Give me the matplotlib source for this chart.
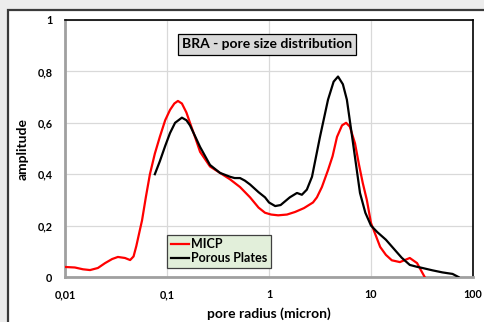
import matplotlib
matplotlib.use("Agg")
import matplotlib.pyplot as plt
from matplotlib.patches import Rectangle

plt.rcParams['font.family'] = ['Lato', 'DejaVu Sans']

micp_x = [0.01, 0.0125, 0.015, 0.0176, 0.021, 0.0247, 0.029, 0.033, 0.0387, 0.0435,
          0.047, 0.05, 0.054, 0.0569, 0.062, 0.068, 0.076, 0.085, 0.096, 0.107,
          0.118, 0.128, 0.14, 0.155, 0.168, 0.19, 0.211, 0.264, 0.331, 0.415,
          0.52, 0.652, 0.79, 0.914, 1.05, 1.23, 1.5, 1.8, 2.2, 2.7,
          2.95, 3.3, 3.79, 4.2, 4.64, 5.2, 5.7, 6.2, 6.97, 7.6,
          8.3, 9.1, 10.0, 12.3, 14.0, 16.0, 19.2, 24.0, 28.3, 31.5, 33.6]
micp_y = [0.039, 0.037, 0.030, 0.027, 0.035, 0.054, 0.070, 0.078, 0.074, 0.066,
          0.080, 0.120, 0.180, 0.220, 0.310, 0.400, 0.480, 0.545, 0.610, 0.650,
          0.675, 0.685, 0.675, 0.640, 0.600, 0.540, 0.487, 0.430, 0.405, 0.380,
          0.350, 0.310, 0.270, 0.250, 0.243, 0.240, 0.243, 0.253, 0.268, 0.290,
          0.310, 0.350, 0.416, 0.470, 0.545, 0.590, 0.600, 0.585, 0.520, 0.440,
          0.366, 0.300, 0.210, 0.117, 0.086, 0.065, 0.058, 0.074, 0.054, 0.020, 0.0]

pp_x = [0.076, 0.085, 0.096, 0.107, 0.12, 0.14, 0.155, 0.168, 0.19, 0.211,
        0.264, 0.331, 0.415, 0.46, 0.52, 0.58, 0.652, 0.79, 0.914, 1.0,
        1.15, 1.3, 1.6, 1.88, 2.1, 2.35, 2.64, 3.16, 3.79, 4.3,
        4.75, 5.3, 5.8, 6.67, 7.8, 8.8, 10.0, 11.5, 14.0, 17.6,
        20.0, 24.0, 28.0, 32.0, 40.0, 50.0, 56.0, 63.0, 72.0]
pp_y = [0.400, 0.450, 0.510, 0.560, 0.600, 0.620, 0.610, 0.590, 0.545, 0.506,
        0.436, 0.405, 0.390, 0.385, 0.385, 0.375, 0.360, 0.330, 0.310, 0.290,
        0.276, 0.280, 0.310, 0.327, 0.320, 0.340, 0.390, 0.545, 0.690, 0.760,
        0.780, 0.750, 0.690, 0.520, 0.327, 0.250, 0.200, 0.175, 0.145, 0.100,
        0.075, 0.047, 0.040, 0.035, 0.026, 0.018, 0.015, 0.012, 0.0]

x_ticks = [0.01, 0.1, 1, 10, 100]
x_labels = ["0,01", "0,1", "1", "10", "100"]
y_ticks = [0, 0.2, 0.4, 0.6, 0.8, 1.0]
y_labels = ["0", "0,2", "0,4", "0,6", "0,8", "1"]

W, H = 485, 322
fig = plt.figure(figsize=(W / 100, H / 100), dpi=100)
fig.patch.set_facecolor('#ececec')
frame = Rectangle((8 / W, -0.05), 1.1, (H - 10) / H + 0.05,
                  transform=fig.transFigure, facecolor='white',
                  edgecolor='#3a3a3a', linewidth=1.6, zorder=-10)
fig.patches.append(frame)

ax = fig.add_axes([65 / W, (H - 277) / H, (473 - 65) / W, (277 - 20) / H])
ax.set_zorder(1)
ax.set_xscale('log')
ax.set_xlim(0.01, 100)
ax.set_ylim(0, 1)

ax.plot(micp_x, micp_y, color='#ff0000', linewidth=1.6, label='MICP', zorder=3)
ax.plot(pp_x, pp_y, color='black', linewidth=1.6, label='Porous Plates', zorder=3)

ax.set_xticks(x_ticks)
ax.set_xticklabels(x_labels)
ax.xaxis.set_minor_locator(matplotlib.ticker.NullLocator())
ax.set_yticks(y_ticks)
ax.set_yticklabels(y_labels)
ax.tick_params(length=0, labelsize=7.8)
ax.tick_params(axis='x', pad=9)
ax.tick_params(axis='y', pad=9)
for lab in ax.get_xticklabels() + ax.get_yticklabels():
    lab.set_fontweight('bold')

ax.grid(True, color='#d9d9d9', linewidth=0.9)
ax.set_axisbelow(True)
for s in ['left', 'bottom']:
    ax.spines[s].set_color('#a0a0a0')
    ax.spines[s].set_linewidth(2.0)
for s in ['top', 'right']:
    ax.spines[s].set_color('black')
    ax.spines[s].set_linewidth(1.2)

ax.set_xlabel('pore radius (micron)', fontsize=10, fontweight='bold', labelpad=5)
ax.set_ylabel('amplitude', fontsize=10, fontweight='bold', labelpad=6)

ax.text(0.495, 0.905, 'BRA - pore size distribution', transform=ax.transAxes,
        ha='center', va='center', fontsize=10, fontweight='bold',
        bbox=dict(boxstyle='square,pad=0.3', facecolor='#d9d9d9',
                  edgecolor='black', linewidth=0.9))

leg = ax.legend(loc='lower left', bbox_to_anchor=((167 - 65) / 408, (277 - 268) / 257),
                fontsize=9, frameon=True, fancybox=False, handlelength=1.5,
                handletextpad=0.1, borderpad=0.3, labelspacing=0.15,
                borderaxespad=0)
leg.get_frame().set_facecolor('#e2efda')
leg.get_frame().set_edgecolor('#404040')
leg.get_frame().set_alpha(1)
leg.get_frame().set_linewidth(0.9)
for t in leg.get_texts():
    t.set_fontweight('bold')

fig.savefig('out.png', dpi=100, facecolor=fig.get_facecolor())
